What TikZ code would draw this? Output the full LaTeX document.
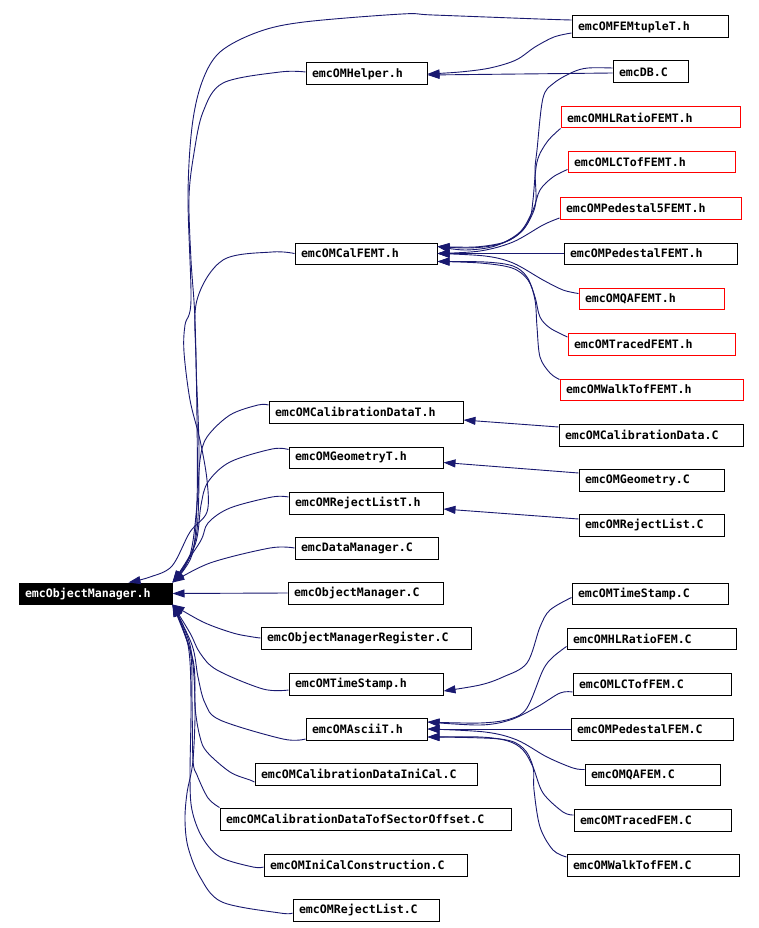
\documentclass[tikz,border=0pt]{standalone}
\usepackage{fontspec}
\setmonofont{DejaVu Sans Mono}
\usetikzlibrary{arrows.meta}
\definecolor{edgeblue}{RGB}{25,25,112}
\newcommand\gnode[7]{%
  \pgfmathsetlengthmacro\gnodeTW{(#4-#2-12)*1pt}%
  \pgfmathsetlengthmacro\gnodeMH{(#5-#3)*1pt}%
  \node[gbox,#7,text width=\gnodeTW,minimum height=\gnodeMH] (#1) at ({(#2+#4)/2},{(#3+#5)/2}) {#6};}
\tikzset{
  gbox/.style={draw=black, line width=1pt, rectangle, inner xsep=6pt, inner ysep=0pt,
    font=\ttfamily\bfseries\fontsize{11.6}{12}\selectfont, align=left, anchor=center},
  redbox/.style={draw=red},
  rootbox/.style={fill=black, text=white},
  edge/.style={draw=edgeblue, line width=0.9pt, -{Triangle[length=12pt,width=8pt]}},
}
\begin{document}
\begin{tikzpicture}[x=1pt,y=-1pt]
\path[fill=white] (0,0) rectangle (759,928);
\useasboundingbox (0,0) rectangle (759,928);

\gnode{root}{19}{583}{172}{604}{emcObjectManager.h}{rootbox}
\gnode{FEMtupleT}{572}{16}{728}{38}{emcOMFEMtupleT.h}{}
\gnode{Helper}{306}{63}{427}{85}{emcOMHelper.h}{}
\gnode{DB}{613}{61}{688}{83}{emcDB.C}{}
\gnode{HLRatioFEMT}{561}{107}{740}{128}{emcOMHLRatioFEMT.h}{redbox}
\gnode{LCTofFEMT}{568}{152}{735}{173}{emcOMLCTofFEMT.h}{redbox}
\gnode{PedestalFiveFEMT}{560}{197}{741}{219}{emcOMPedestal5FEMT.h}{redbox}
\gnode{PedestalFEMT}{564}{243}{737}{264}{emcOMPedestalFEMT.h}{}
\gnode{QAFEMT}{579}{288}{724}{309}{emcOMQAFEMT.h}{redbox}
\gnode{TracedFEMT}{568}{333}{735}{355}{emcOMTracedFEMT.h}{redbox}
\gnode{WalkTofFEMT}{560}{379}{743}{400}{emcOMWalkTofFEMT.h}{redbox}
\gnode{CalFEMT}{295}{243}{437}{264}{emcOMCalFEMT.h}{}
\gnode{CalibDataT}{269}{401}{463}{423}{emcOMCalibrationDataT.h}{}
\gnode{CalibData}{559}{424}{743}{446}{emcOMCalibrationData.C}{}
\gnode{GeometryT}{289}{447}{443}{468}{emcOMGeometryT.h}{}
\gnode{Geometry}{579}{469}{724}{491}{emcOMGeometry.C}{}
\gnode{RejectListT}{289}{492}{443}{514}{emcOMRejectListT.h}{}
\gnode{RejectListC}{579}{514}{724}{536}{emcOMRejectList.C}{}
\gnode{DataManager}{295}{537}{438}{559}{emcDataManager.C}{}
\gnode{ObjManagerC}{288}{582}{443}{604}{emcObjectManager.C}{}
\gnode{ObjMgrRegister}{261}{627}{471}{649}{emcObjectManagerRegister.C}{}
\gnode{TimeStampH}{289}{673}{443}{695}{emcOMTimeStamp.h}{}
\gnode{TimeStampC}{572}{583}{728}{604}{emcOMTimeStamp.C}{}
\gnode{HLRatioFEM}{567}{628}{736}{649}{emcOMHLRatioFEM.C}{}
\gnode{LCTofFEM}{573}{673}{731}{695}{emcOMLCTofFEM.C}{}
\gnode{AsciiT}{306}{718}{427}{740}{emcOMAsciiT.h}{}
\gnode{PedestalFEM}{571}{718}{733}{740}{emcOMPedestalFEM.C}{}
\gnode{QAFEM}{585}{764}{720}{785}{emcOMQAFEM.C}{}
\gnode{TracedFEM}{574}{809}{731}{831}{emcOMTracedFEM.C}{}
\gnode{WalkTofFEM}{567}{854}{739}{876}{emcOMWalkTofFEM.C}{}
\gnode{IniCalC}{255}{763}{477}{785}{emcOMCalibrationDataIniCal.C}{}
\gnode{TofSector}{220}{808}{511}{830}{emcOMCalibrationDataTofSectorOffset.C}{}
\gnode{IniCalConstr}{264}{854}{467}{876}{emcOMIniCalConstruction.C}{}
\gnode{RejectListL}{293}{899}{439}{921}{emcOMRejectList.C}{}

% edges into emcObjectManager.h (upper)
\draw[edge] plot[smooth,tension=0.55] coordinates {([yshift=7pt]FEMtupleT.west) (539,19) (433,15) (402,14) (304,22) (258,32) (220,52) (202,82) (192,127) (188,197) (191,300) (185,325) (184,352) (190,400) (200,440) (207,480) (207,512) (190,532) (172,566) (150,577) ([xshift=-44pt]root.north east)};
\draw[edge] plot[smooth,tension=0.55] coordinates {([yshift=2pt]Helper.west) (280,72) (223,83) (203,112) (194,153) (189,197) (191,260) (195,320) (197,420) (197,500) (192,555) (root.north east)};
\draw[edge] plot[smooth,tension=0.55] coordinates {(CalFEMT.west) (272,252) (223,260) (197,300) (196,360) (199,450) (197,530) (186,565) (root.north east)};
\draw[edge] plot[smooth,tension=0.55] coordinates {([yshift=7pt]CalibDataT.west) (258,405) (230,415) (207,437) (200,460) (197,505) (190,555) (root.north east)};
\draw[edge] plot[smooth,tension=0.55] coordinates {([yshift=8pt]GeometryT.west) (272,449) (230,462) (208,482) (201,505) (195,545) (root.north east)};
\draw[edge] plot[smooth,tension=0.55] coordinates {([yshift=6pt]RejectListT.west) (272,497) (230,508) (208,523) (200,542) (root.north east)};
\draw[edge] plot[smooth,tension=0.55] coordinates {(DataManager.west) (270,548) (210,563) (root.north east)};
\draw[edge] (ObjManagerC.west) -- (root.east);
% edges into emcObjectManager.h (lower)
\draw[edge] plot[smooth,tension=0.55] coordinates {(ObjMgrRegister.west) (253,637) (233,633) (203,622) (root.south east)};
\draw[edge] plot[smooth,tension=0.55] coordinates {([yshift=-6pt]TimeStampH.west) (263,689) (217,670) (200,653) (190,633) (root.south east)};
\draw[edge] plot[smooth,tension=0.55] coordinates {([yshift=-10pt]AsciiT.west) (283,739) (220,720) (205,703) (198,677) (192,645) (root.south east)};
\draw[edge] plot[smooth,tension=0.55] coordinates {([yshift=-8pt]IniCalC.west) (250,780) (230,772) (207,752) (200,737) (195,707) (193,660) (root.south east)};
\draw[edge] plot[smooth,tension=0.55] coordinates {(TofSector.north west) (208,798) (197,775) (193,760) (192,700) (190,650) (root.south east)};
\draw[edge] plot[smooth,tension=0.55] coordinates {([yshift=-2pt]IniCalConstr.west) (253,867) (220,857) (202,837) (192,810) (190,777) (191,700) (188,645) (root.south east)};
\draw[edge] plot[smooth,tension=0.55] coordinates {([yshift=-3pt]RejectListL.west) (280,913) (222,902) (200,877) (188,847) (185,820) (187,793) (193,760) (195,700) (190,645) (root.south east)};

% edges into emcOMHelper.h
\draw[edge] plot[smooth,tension=0.55] coordinates {([yshift=-6pt]FEMtupleT.west) (554,37) (535,47) (516,60) (490,68) (460,72) (Helper.east)};
\draw[edge] ([yshift=-1pt]DB.west) -- ([yshift=-1pt]Helper.east);

% edges into emcOMCalFEMT.h
\draw[edge] plot[smooth,tension=0.55] coordinates {([yshift=4pt]DB.west) (588,68) (573,72) (554,83) (543,98) (537,150) (535,170) (536,200) (532,215) (522,231) (505,242) (475,247) ([yshift=7pt]CalFEMT.east)};
\draw[edge] plot[smooth,tension=0.55] coordinates {(HLRatioFEMT.south west) (547,142) (537,162) (533,200) (530,218) (520,233) (500,244) (470,248) ([yshift=7pt]CalFEMT.east)};
\draw[edge] plot[smooth,tension=0.55] coordinates {([yshift=-7pt]LCTofFEMT.west) (553,177) (540,190) (533,210) (520,232) (495,246) (465,250) ([yshift=7pt]CalFEMT.east)};
\draw[edge] plot[smooth,tension=0.55] coordinates {([yshift=-10pt]PedestalFiveFEMT.west) (543,225) (513,242) (480,251) (CalFEMT.east)};
\draw[edge] (PedestalFEMT.west) -- (CalFEMT.east);
\draw[edge] plot[smooth,tension=0.55] coordinates {([yshift=5pt]QAFEMT.west) (563,290) (543,280) (513,263) (485,256) (CalFEMT.east)};
\draw[edge] plot[smooth,tension=0.55] coordinates {([yshift=7pt]TracedFEMT.west) (550,328) (540,317) (535,297) (527,277) (513,266) (485,262) ([yshift=-8pt]CalFEMT.east)};
\draw[edge] plot[smooth,tension=0.55] coordinates {([yshift=10pt]WalkTofFEMT.west) (550,373) (540,357) (537,327) (535,300) (528,280) (512,268) (480,263) ([yshift=-8pt]CalFEMT.east)};

% straight edges
\draw[edge] ([yshift=8pt]CalibData.west) -- ([yshift=-8pt]CalibDataT.east);
\draw[edge] ([yshift=7pt]Geometry.west) -- ([yshift=-5pt]GeometryT.east);
\draw[edge] ([yshift=6pt]RejectListC.west) -- ([yshift=-6pt]RejectListT.east);

% emcOMTimeStamp.C -> emcOMTimeStamp.h
\draw[edge] plot[smooth,tension=0.55] coordinates {([yshift=-4pt]TimeStampC.west) (550,610) (540,627) (527,663) (503,677) (480,685) ([yshift=-7pt]TimeStampH.east)};

% edges into emcOMAsciiT.h
\draw[edge] plot[smooth,tension=0.55] coordinates {([yshift=-8pt]HLRatioFEM.west) (553,657) (543,670) (527,708) (510,719) (480,723) ([yshift=7pt]AsciiT.east)};
\draw[edge] plot[smooth,tension=0.55] coordinates {([yshift=-8pt]LCTofFEM.west) (560,693) (537,707) (510,720) (480,725) ([yshift=7pt]AsciiT.east)};
\draw[edge] (PedestalFEM.west) -- (AsciiT.east);
\draw[edge] plot[smooth,tension=0.55] coordinates {([yshift=5pt]QAFEM.west) (573,768) (547,757) (517,740) (485,732) (AsciiT.east)};
\draw[edge] plot[smooth,tension=0.55] coordinates {([yshift=5pt]TracedFEM.west) (563,812) (543,793) (533,767) (523,750) (508,741) (480,737) ([yshift=-8pt]AsciiT.east)};
\draw[edge] plot[smooth,tension=0.55] coordinates {([yshift=8pt]WalkTofFEM.west) (553,850) (540,827) (534,790) (533,767) (523,748) (500,739) ([yshift=-8pt]AsciiT.east)};
\end{tikzpicture}
\end{document}
